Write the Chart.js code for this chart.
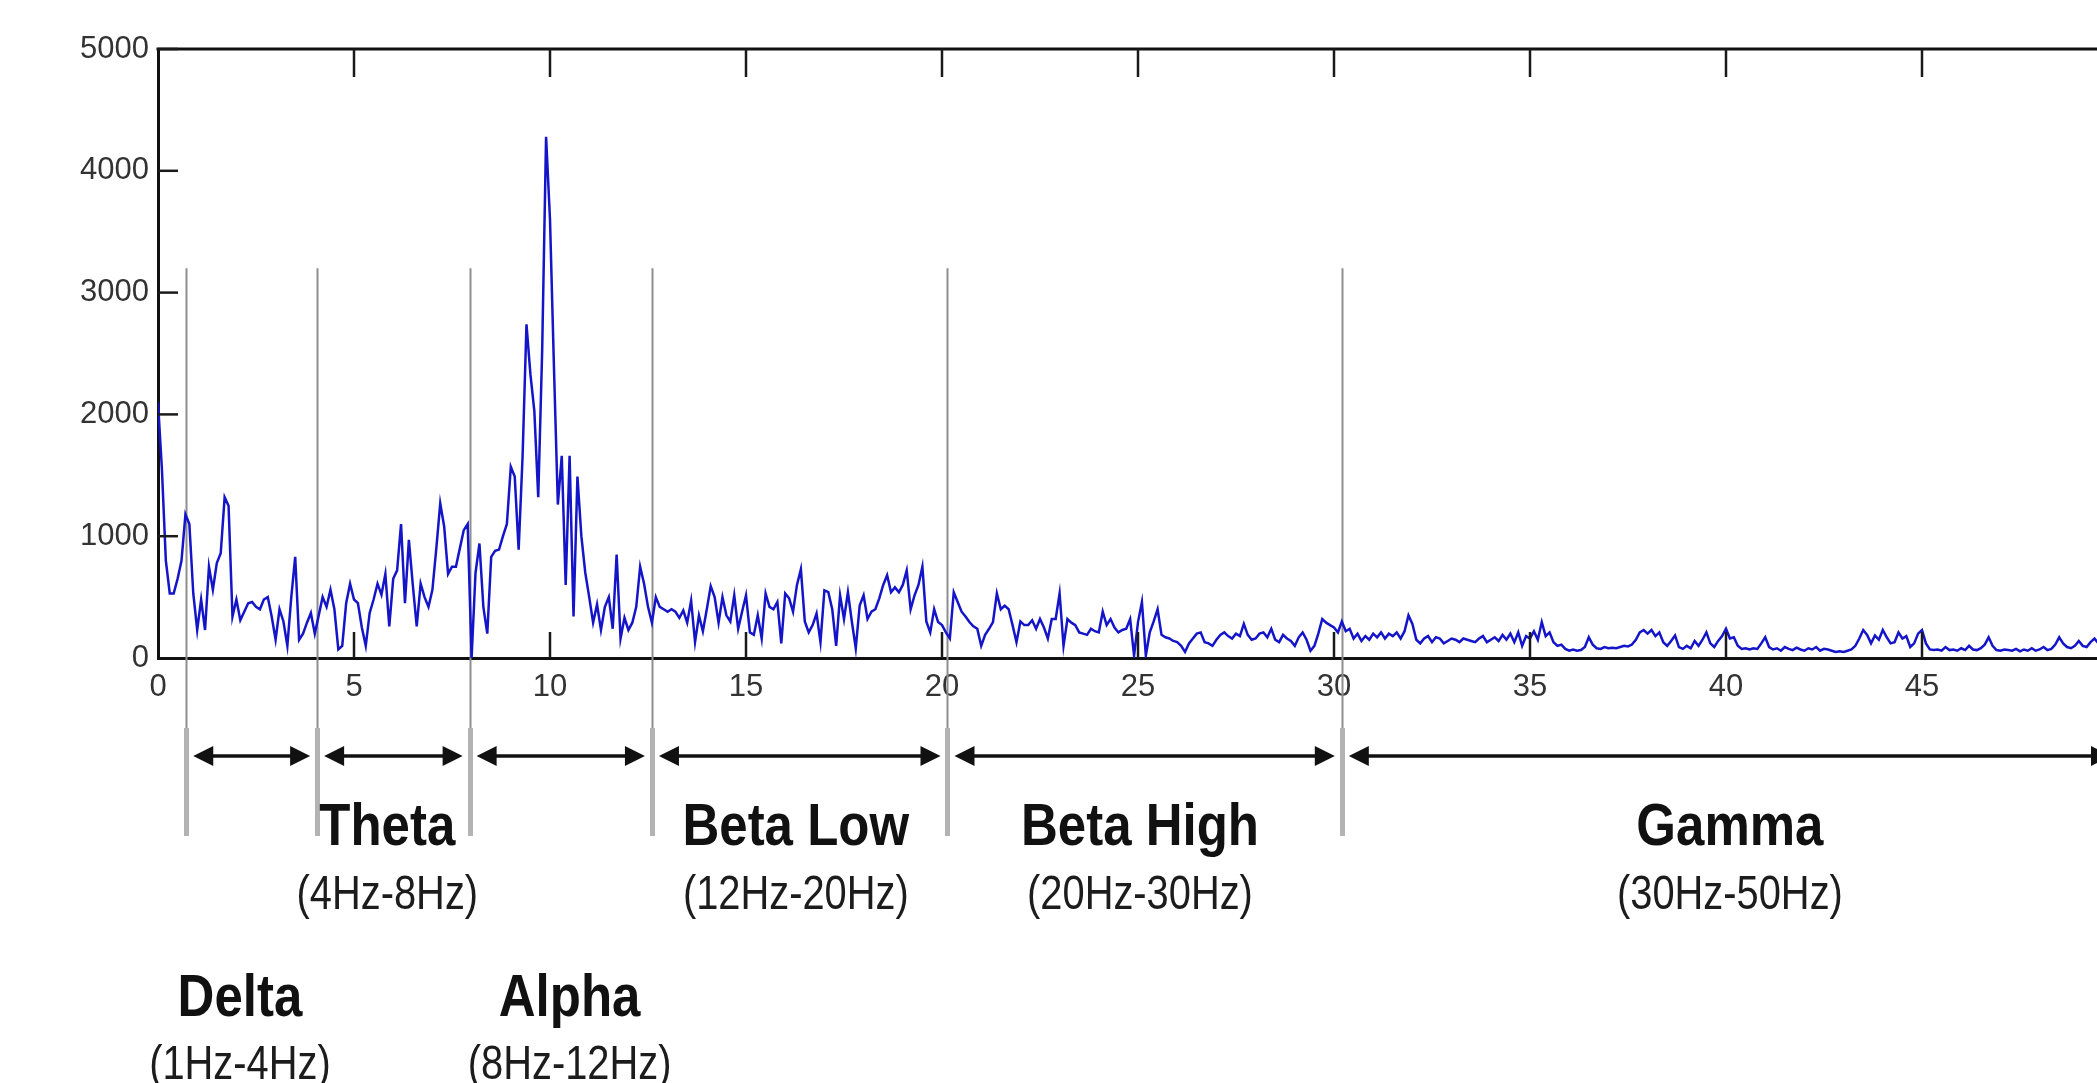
<!DOCTYPE html>
<html>
<head>
<meta charset="utf-8">
<script src="https://cdn.jsdelivr.net/npm/chart.js@4.4.1/dist/chart.umd.min.js"></script>
<style>
  html, body { margin: 0; padding: 0; background: #ffffff; overflow: hidden; width: 2097px; height: 1083px; }
  #wrap { position: absolute; left: 0; top: 0; width: 2160px; height: 1083px; }
  canvas { display: block; }
</style>
</head>
<body>
<div id="wrap"><canvas id="c" width="2160" height="1083"></canvas></div>
<script>
// ---------------- data ----------------
const FREQ_START = 0;      // Hz, first spectrum bin
const FREQ_STEP = 0.1;     // Hz between bins

// spectral power, 0.0 – 9.9 Hz
const power0to10 = [
  2100,1550,800,530,530,650,800,1180,1100,530,
  230,480,230,750,560,780,860,1320,1250,340,
  480,310,380,450,460,420,400,480,500,340,
  150,400,300,100,500,830,150,200,290,370,
  200,350,500,420,560,400,70,100,450,610,
  480,450,250,100,370,480,610,520,690,260,
  650,720,1100,450,970,600,260,610,500,420,
  560,900,1270,1080,690,750,750,900,1050,1100,
  0,700,940,420,200,830,880,890,1000,1100,
  1570,1490,890,1650,2740,2330,2030,1320,2520,4280
];
// 10.0 – 19.9 Hz
const power10to20 = [
  3600,2400,1260,1660,600,1660,340,1490,1000,700,
  500,290,440,230,420,500,240,850,160,330,
  230,290,420,750,610,420,290,500,420,400,
  380,400,380,330,390,290,470,130,350,220,
  400,590,500,290,500,350,300,515,240,380,
  515,210,190,350,160,530,420,400,460,120,
  530,490,380,600,730,300,210,270,365,130,
  555,540,400,100,515,320,540,300,80,430,
  515,320,380,400,490,600,680,540,580,540,
  600,720,400,515,600,750,300,210,400,295
];
// 20.0 – 29.9 Hz
const power20to30 = [
  270,210,160,540,460,380,340,295,260,240,
  100,190,240,295,530,400,430,400,270,130,
  300,270,270,310,240,320,250,160,320,320,
  530,100,320,290,270,210,200,190,240,220,
  210,380,270,320,250,210,230,240,320,20,
  295,460,20,210,300,400,190,170,160,140,
  130,100,50,120,160,200,210,130,120,100,
  150,190,210,180,160,200,180,280,190,150,
  160,200,210,170,240,150,130,190,160,140,
  100,170,210,150,60,100,200,320,290,270
];
// 30.0 – 39.9 Hz
const power30to40 = [
  250,210,300,220,240,160,200,140,180,150,
  200,170,210,160,200,180,210,160,220,350,
  280,150,120,160,180,130,170,160,120,140,
  160,150,130,160,150,140,130,160,180,130,
  150,170,140,190,150,200,130,210,100,180,
  160,220,150,295,180,210,130,100,110,75,
  60,70,60,65,90,170,110,80,75,90,
  80,85,80,90,100,95,110,150,210,230,
  200,230,180,210,130,100,140,185,90,75,
  100,80,140,100,150,210,120,90,140,180
];
// 40.0 – 50.0 Hz
const power40to50 = [
  240,160,170,100,75,80,70,80,75,120,
  170,90,70,80,60,90,75,65,85,70,
  60,80,70,90,60,75,70,60,50,55,
  50,60,70,100,160,230,190,120,185,150,
  230,170,120,130,210,160,180,90,120,200,
  230,120,70,65,70,60,90,65,70,60,
  80,65,100,70,65,80,110,170,100,65,
  60,70,65,60,75,55,70,60,80,60,
  70,90,65,75,110,170,120,90,80,100,
  140,100,90,130,160,120,90,100,80,90,
  100
];

const xTickValues = [0, 5, 10, 15, 20, 25, 30, 35, 40, 45, 50];
const yTickValues = [0, 1000, 2000, 3000, 4000, 5000];

// EEG band annotation
const bandNames  = ['Delta', 'Theta', 'Alpha', 'Beta Low', 'Beta High', 'Gamma'];
const bandRanges = ['(1Hz-4Hz)', '(4Hz-8Hz)', '(8Hz-12Hz)', '(12Hz-20Hz)', '(20Hz-30Hz)', '(30Hz-50Hz)'];
const bandEdgesHz = [0.72, 4.06, 7.95, 12.6, 20.14, 30.2, 50];
const bandLabelHz = [2.09, 5.85, 10.5, 16.27, 25.05, 40.1];
const bandLabelRow = [1, 0, 1, 0, 0, 0];
const bandLineTopValue = 3200;

// ---------------- build ----------------
const power = [].concat(power0to10, power10to20, power20to30, power30to40, power40to50);
const points = power.map((v, i) => ({ x: Math.round((FREQ_START + i * FREQ_STEP) * 100) / 100, y: v }));

const TICK_FONT = "'Liberation Sans Narrow', 'Liberation Sans', Arial, sans-serif";

const annot = {
  id: 'eegAnnot',
  beforeDatasetsDraw(chart) {
    const { ctx, chartArea: a, scales: { x, y } } = chart;
    ctx.save();
    const topY = y.getPixelForValue(bandLineTopValue);
    const thinEnd = a.bottom + 70;
    const thickEnd = a.bottom + 178;
    for (let i = 0; i < bandEdgesHz.length - 1; i++) {
      const px = Math.round(x.getPixelForValue(bandEdgesHz[i])) + 0.5;
      ctx.strokeStyle = '#8e8e8e';
      ctx.lineWidth = 2;
      ctx.beginPath(); ctx.moveTo(px, topY); ctx.lineTo(px, thinEnd); ctx.stroke();
      ctx.strokeStyle = '#b3b3b3';
      ctx.lineWidth = 5;
      ctx.beginPath(); ctx.moveTo(px, thinEnd); ctx.lineTo(px, thickEnd); ctx.stroke();
    }
    ctx.restore();
  },
  afterDraw(chart) {
    const { ctx, chartArea: a, scales: { x, y } } = chart;
    ctx.save();
    const seg = (x1, y1, x2, y2) => { ctx.beginPath(); ctx.moveTo(x1, y1); ctx.lineTo(x2, y2); ctx.stroke(); };

    // top frame line
    ctx.strokeStyle = '#111';
    ctx.lineWidth = 3;
    seg(a.left - 1.5, a.top, a.right, a.top);

    // inward tick marks (MATLAB style)
    ctx.strokeStyle = '#1a1a1a';
    ctx.lineWidth = 2.5;
    x.ticks.forEach(t => {
      if (t.value <= x.min || t.value >= x.max) return;
      const px = x.getPixelForValue(t.value);
      seg(px, a.top, px, a.top + 28);
      seg(px, a.bottom, px, a.bottom - 26);
    });
    y.ticks.forEach(t => {
      if (t.value <= y.min) return;
      const py = y.getPixelForValue(t.value);
      seg(a.left, py, a.left + 20, py);
    });

    // double arrows between band edges
    const arrowY = a.bottom + 98;
    const gap = 7, headLen = 20, headHalf = 10;
    ctx.fillStyle = '#111';
    ctx.strokeStyle = '#111';
    ctx.lineWidth = 3.5;
    for (let i = 0; i < bandEdgesHz.length - 1; i++) {
      const x1 = x.getPixelForValue(bandEdgesHz[i]) + gap;
      const x2 = x.getPixelForValue(bandEdgesHz[i + 1]) - gap;
      seg(x1 + 4, arrowY, x2 - 4, arrowY);
      ctx.beginPath();
      ctx.moveTo(x1, arrowY); ctx.lineTo(x1 + headLen, arrowY - headHalf); ctx.lineTo(x1 + headLen, arrowY + headHalf);
      ctx.closePath(); ctx.fill();
      ctx.beginPath();
      ctx.moveTo(x2, arrowY); ctx.lineTo(x2 - headLen, arrowY - headHalf); ctx.lineTo(x2 - headLen, arrowY + headHalf);
      ctx.closePath(); ctx.fill();
    }

    // band labels
    const rows = [
      { name: a.bottom + 187, range: a.bottom + 251 },
      { name: a.bottom + 358, range: a.bottom + 421 }
    ];
    const drawText = (txt, cx, base, font, sx, color) => {
      ctx.save();
      ctx.font = font;
      ctx.fillStyle = color;
      ctx.textAlign = 'center';
      ctx.textBaseline = 'alphabetic';
      ctx.translate(cx, base);
      ctx.scale(sx, 1);
      ctx.fillText(txt, 0, 0);
      ctx.restore();
    };
    for (let i = 0; i < bandNames.length; i++) {
      const cx = x.getPixelForValue(bandLabelHz[i]);
      const r = rows[bandLabelRow[i]];
      drawText(bandNames[i], cx, r.name, "bold 60px 'Liberation Sans', Arial, sans-serif", 0.85, '#111');
      drawText(bandRanges[i], cx, r.range, "48px 'Liberation Sans', Arial, sans-serif", 0.83, '#1c1c1c');
    }
    ctx.restore();
  }
};

new Chart(document.getElementById('c').getContext('2d'), {
  type: 'line',
  data: {
    datasets: [{
      data: points,
      borderColor: '#1414c8',
      borderWidth: 2.5,
      pointRadius: 0,
      tension: 0,
      fill: false
    }]
  },
  options: {
    responsive: false,
    animation: false,
    devicePixelRatio: 1,
    layout: { padding: { left: 0, top: 49, right: 42, bottom: 375 } },
    plugins: { legend: { display: false }, tooltip: { enabled: false }, title: { display: false } },
    scales: {
      x: {
        type: 'linear',
        min: 0,
        max: 50,
        afterFit(s) { s.height = 50; },
        afterBuildTicks(s) { s.ticks = xTickValues.map(v => ({ value: v })); },
        ticks: {
          padding: 11,
          autoSkip: false,
          maxRotation: 0,
          color: '#333',
          font: { family: TICK_FONT, size: 31 },
          callback: v => String(v)
        },
        grid: { display: false, drawTicks: false },
        border: { display: true, color: '#111', width: 3 }
      },
      y: {
        min: 0,
        max: 5000,
        afterFit(s) { s.width = 158; },
        afterBuildTicks(s) { s.ticks = yTickValues.map(v => ({ value: v })); },
        ticks: {
          padding: 9,
          color: '#333',
          font: { family: TICK_FONT, size: 31 },
          callback: v => String(v)
        },
        grid: { display: false, drawTicks: false },
        border: { display: true, color: '#111', width: 3 }
      }
    }
  },
  plugins: [annot]
});
</script>
</body>
</html>
